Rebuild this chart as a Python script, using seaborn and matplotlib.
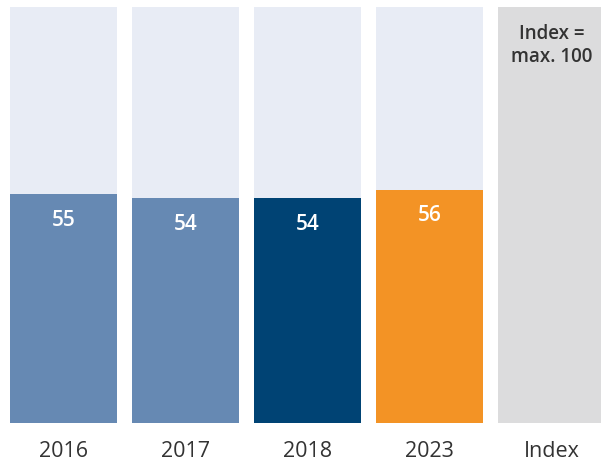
import pandas as pd
import matplotlib
matplotlib.use("Agg")
import matplotlib.pyplot as plt
import seaborn as sns

categories = ['2016', '2017', '2018', '2023', 'Index']
values = [55, 54, 54, 56]
full_scale = [100, 100, 100, 100, 100]
bar_colors = ['#6689b3', '#6689b3', '#004374', '#f39325']
bg_colors = ['#e8ecf5', '#e8ecf5', '#e8ecf5', '#e8ecf5', '#dcdcdd']
index_note = 'Index =\nmax. 100'

sns.set_style('white')
plt.rcParams['font.family'] = ['Open Sans', 'DejaVu Sans']

bg_df = pd.DataFrame({'categoria': categories, 'valor': full_scale})
val_df = pd.DataFrame({'categoria': categories[:4], 'valor': values})

fig = plt.figure(figsize=(6.01, 4.64), dpi=100)
ax = fig.add_axes([0, 40 / 464, 1, 416 / 464])

sns.barplot(data=bg_df, x='categoria', y='valor', hue='categoria', order=categories,
            palette=bg_colors, width=0.885, legend=False, ax=ax, saturation=1,
            linewidth=0)
sns.barplot(data=val_df, x='categoria', y='valor', hue='categoria', order=categories,
            palette=bar_colors, width=0.885, legend=False, ax=ax, saturation=1,
            linewidth=0)

for i, v in enumerate(values):
    ax.text(i, v - 6, str(v), ha='center', va='center', color='white',
            fontsize=15, fontweight='semibold')
ax.text(4, 91, index_note, ha='center', va='center', color='#333333',
        fontsize=13.5, fontweight='semibold', linespacing=1.2)

ax.set_xlim(-63.5 / 122, (601 - 63.5) / 122)
ax.set_ylim(0, 100)
ax.set_xlabel('')
ax.set_ylabel('')
ax.set_yticks([])
ax.tick_params(axis='x', length=0, pad=12, labelsize=15.5, labelcolor='#333333')
sns.despine(ax=ax, left=True, bottom=True)

fig.savefig('out.png', dpi=100)
